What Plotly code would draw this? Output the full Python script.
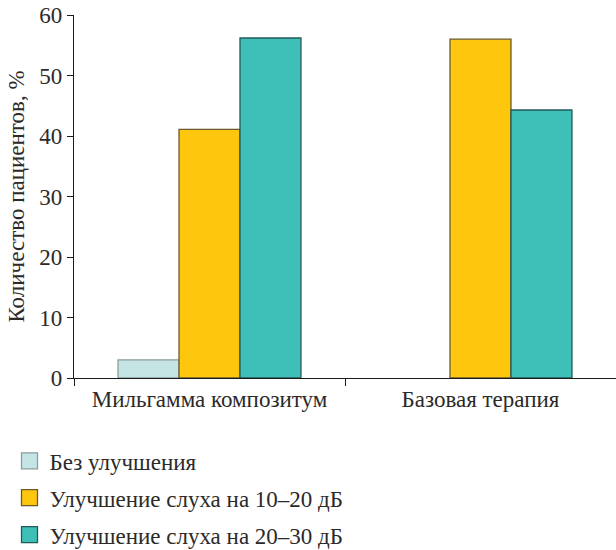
import plotly.graph_objects as go

categories = ["Мильгамма композитум", "Базовая терапия"]
series_names = ["Без улучшения", "Улучшение слуха на 10–20 дБ", "Улучшение слуха на 20–30 дБ"]
no_improvement = [3.0, None]
improve_10_20 = [41.1, 56.0]
improve_20_30 = [56.2, 44.3]
y_ticks = [0, 10, 20, 30, 40, 50, 60]

fills = ["#c4e5e3", "#fec60c", "#3ebfb7"]
edges = ["#8c9c9b", "#6a5a30", "#25595a"]
FONT = "Liberation Serif, Tinos, DejaVu Serif, Times New Roman, serif"
TXT = "#2b2a29"
FS = 23

fig = go.Figure()
for name, vals, fc, ec in zip(series_names, [no_improvement, improve_10_20, improve_20_30], fills, edges):
    fig.add_trace(go.Bar(x=categories, y=vals, name=name, marker=dict(color=fc, line=dict(color=ec, width=1.3)),
                         showlegend=False, hoverinfo="skip"))
for i, (name, fc, ec) in enumerate(zip(series_names, fills, edges)):
    fig.add_trace(go.Scatter(x=[None], y=[None], mode="markers", name=name, legendgroup=f"g{i}",
                             marker=dict(symbol="square", size=17, color=fc, line=dict(color=ec, width=1.3))))

fig.update_layout(
    width=616, height=550,
    margin=dict(l=74, r=0, t=15, b=172, autoexpand=False),
    plot_bgcolor="white", paper_bgcolor="white",
    font=dict(family=FONT, size=FS, color=TXT),
    barmode="group", bargap=0.325, bargroupgap=0,
    showlegend=True,
    legend=dict(x=-0.119, xanchor="left", y=-0.169, yanchor="top", orientation="v",
                tracegroupgap=4, itemsizing="trace", font=dict(family=FONT, size=FS, color=TXT),
                bgcolor="rgba(0,0,0,0)"),
)
fig.update_xaxes(type="category", showline=True, linecolor="#1a1a1a", linewidth=1.3, automargin=False,
                 ticks="outside", tickson="boundaries", ticklen=7, tickcolor="#1a1a1a", tickwidth=1.3,
                 showgrid=False, zeroline=False, range=[-0.5, 1.5],
                 tickfont=dict(family=FONT, size=FS, color=TXT))
fig.update_yaxes(range=[0, 60], tickvals=y_ticks, showline=True, linecolor="#1a1a1a", linewidth=1.3,
                 automargin=False,
                 ticks="outside", ticklen=6, tickcolor="#1a1a1a", tickwidth=1.3,
                 showgrid=False, zeroline=False,
                 tickfont=dict(family=FONT, size=FS, color=TXT),
                 title=dict(text="Количество пациентов, %", font=dict(family=FONT, size=FS, color=TXT), standoff=8))

fig.write_html("out.html", config={"displayModeBar": False},
               post_script="document.body.style.margin='0px';")
